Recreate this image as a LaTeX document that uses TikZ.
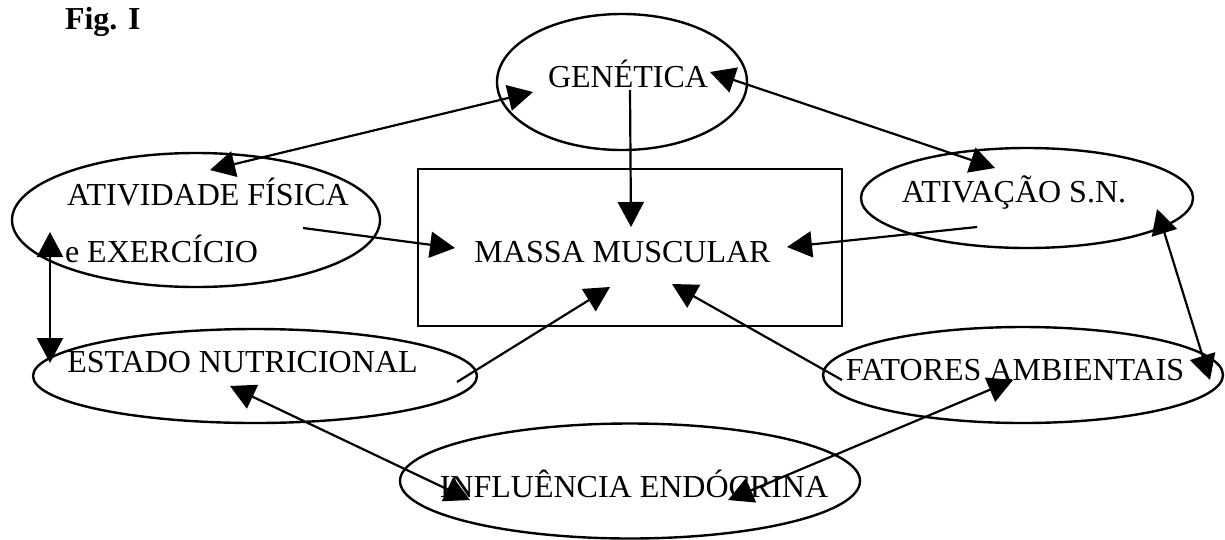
\documentclass[tikz,border=0pt]{standalone}
\usepackage{fontspec}
\setmainfont{Liberation Serif}
\usetikzlibrary{shapes.geometric,arrows.meta,calc}
\begin{document}
\begin{tikzpicture}[x=1pt,y=-1pt,
  every node/.style={inner sep=0pt,outer sep=0pt},
  oval/.style={draw,ellipse,line width=2.4pt},
  box/.style={draw,rectangle,line width=2.2pt},
  lbl/.style={anchor=base,font=\fontsize{32}{36}\selectfont},
  tip/.tip={Triangle[length=25pt,width=26pt]},
  link/.style={line width=2.2pt,-tip},
  blink/.style={line width=2.2pt,tip-tip},
]
\useasboundingbox (0,0) rectangle (1225,539);

% title
\node[anchor=base west,font=\fontsize{32}{36}\selectfont\bfseries] (fig) at (65,29) {Fig. I};

% shapes
\node[oval,minimum width=250pt,minimum height=136pt] (gen) at (622,82) {};
\node[box,minimum width=424pt,minimum height=157pt] (mass) at (630,247.5) {};
\node[oval,minimum width=368pt,minimum height=134pt] (atv) at (196,220) {};
\node[oval,minimum width=332pt,minimum height=100pt] (ativ) at (1027,198) {};
\node[oval,minimum width=444pt,minimum height=94pt] (est) at (255,376) {};
\node[oval,minimum width=400pt,minimum height=96pt] (fat) at (1023,375) {};
\node[oval,minimum width=460pt,minimum height=115pt] (inf) at (630,481) {};

% labels
\node[lbl] (genT) at (628,87) {GENÉTICA};
\node[lbl] (massT) at (622.5,262) {MASSA MUSCULAR};
\node[lbl,anchor=base west] (atvT1) at (67,205) {ATIVIDADE FÍSICA};
\node[lbl,anchor=base west] (atvT2) at (65,262) {e EXERCÍCIO};
\node[lbl] (ativT) at (1014,202) {ATIVAÇÃO S.N.};
\node[lbl] (estT) at (242.5,372) {ESTADO NUTRICIONAL};
\node[lbl] (fatT) at (1015,380) {FATORES AMBIENTAIS};
\node[lbl] (infT) at (634,497) {INFLUÊNCIA ENDÓCRINA};

% connectors
\draw[blink] ($(gen)+(-89,10)$) -- ($(atv)+(14,-50)$);
\draw[link]  ($(gen)+(8,8)$) -- ($(mass)+(1,-20.5)$);
\draw[blink] ($(gen)+(88,-10)$) -- ($(ativ)+(-32,-30)$);
\draw[link]  ($(atv)+(107,8)$) -- ($(mass)+(-175,0.5)$);
\draw[link]  ($(ativ)+(-50,29)$) -- ($(mass)+(157,-0.5)$);
\draw[blink] ($(atv)+(-146,12)$) -- ($(est)+(-205,-13)$);
\draw[blink] ($(ativ)+(130,11)$) -- ($(fat)+(187,5)$);
\draw[link]  ($(est)+(202,6)$) -- ($(mass)+(-20,39.5)$);
\draw[link]  ($(fat)+(-181,5)$) -- ($(mass)+(42,36.5)$);
\draw[blink] ($(inf)+(-160,19)$) -- ($(est)+(-25,10)$);
\draw[blink] ($(inf)+(98,19)$) -- ($(fat)+(-10,5)$);
\end{tikzpicture}
\end{document}
